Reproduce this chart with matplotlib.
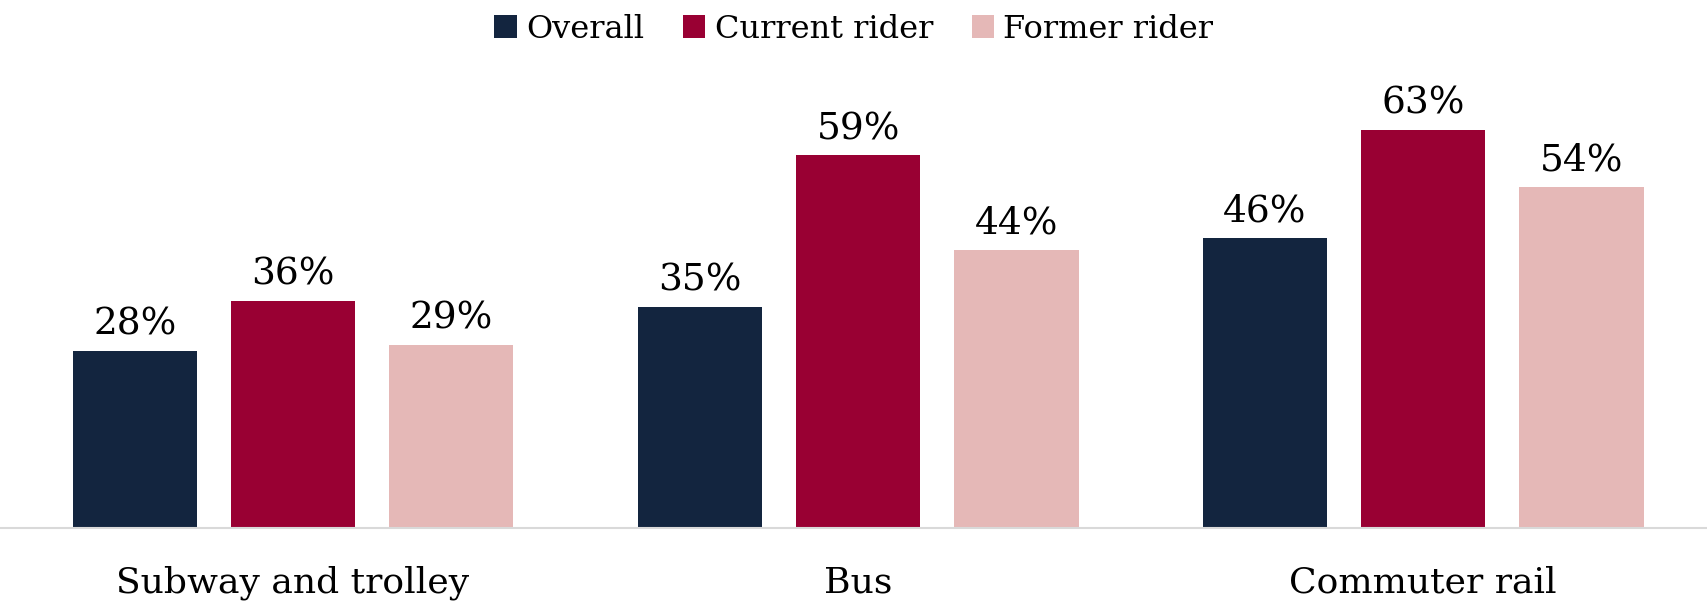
import matplotlib.pyplot as plt
import numpy as np

categories = ['Subway and trolley', 'Bus', 'Commuter rail']
series = ['Overall', 'Current rider', 'Former rider']
overall = [28, 35, 46]
current = [36, 59, 63]
former = [29, 44, 54]

colors = ['#13253F', '#990033', '#E5B8B7']

plt.rcParams['font.family'] = 'DejaVu Serif'

fig = plt.figure(figsize=(17.08, 6.06), dpi=100)
ax = fig.add_axes([0, 78 / 606, 1, 442 / 606])

x = np.arange(len(categories))
pitch = 0.28
width = 0.22
for i, (vals, name) in enumerate(zip([overall, current, former], series)):
    bars = ax.bar(x + (i - 1) * pitch, vals, width, color=colors[i], label=name)
    ax.bar_label(bars, labels=[f'{v}%' for v in vals], padding=6, fontsize=27)

ax.set_xlim(-0.5186, 2.504)
ax.set_ylim(0, 70)
ax.set_xticks(x)
ax.set_xticklabels(categories, fontsize=26)
ax.tick_params(axis='x', length=0, pad=27)
ax.set_yticks([])
for s in ['top', 'left', 'right']:
    ax.spines[s].set_visible(False)
ax.spines['bottom'].set_color('#D9D9D9')
ax.spines['bottom'].set_linewidth(1.5)

fig.legend(loc='upper center', bbox_to_anchor=(0.5, 1.025), ncol=3, frameon=False,
           fontsize=23, handlelength=0.7, handleheight=0.7, handletextpad=0.3,
           columnspacing=1.2)

fig.savefig('out.png', dpi=100)
